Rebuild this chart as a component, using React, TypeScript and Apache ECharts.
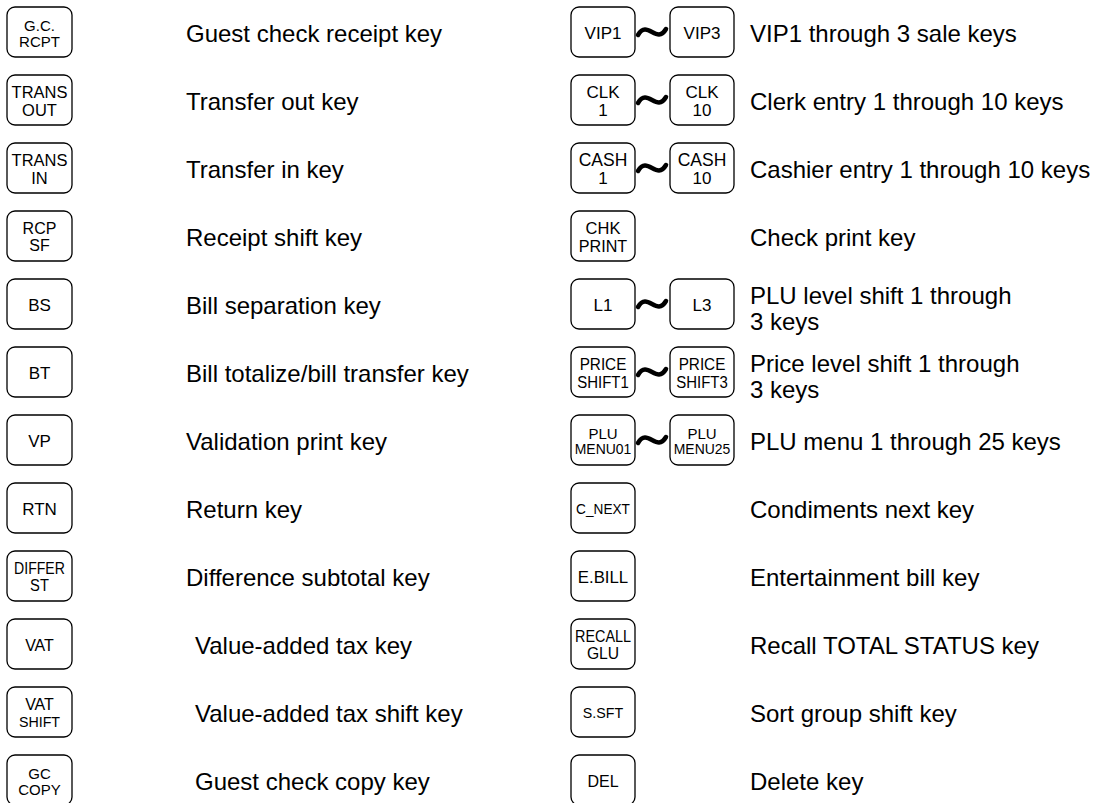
import React, { useEffect, useRef } from "react";
import * as echarts from "echarts";

// ---- data ----
const leftKeyLabels: string[][] = [
  ["G.C.", "RCPT"],
  ["TRANS", "OUT"],
  ["TRANS", "IN"],
  ["RCP", "SF"],
  ["BS"],
  ["BT"],
  ["VP"],
  ["RTN"],
  ["DIFFER", "ST"],
  ["VAT"],
  ["VAT", "SHIFT"],
  ["GC", "COPY"],
];
const leftDescriptions: string[] = [
  "Guest check receipt key",
  "Transfer out key",
  "Transfer in key",
  "Receipt shift key",
  "Bill separation key",
  "Bill totalize/bill transfer key",
  "Validation print key",
  "Return key",
  "Difference subtotal key",
  "Value-added tax key",
  "Value-added tax shift key",
  "Guest check copy key",
];
const rightFirstKeys: string[][] = [
  ["VIP1"],
  ["CLK", "1"],
  ["CASH", "1"],
  ["CHK", "PRINT"],
  ["L1"],
  ["PRICE", "SHIFT1"],
  ["PLU", "MENU01"],
  ["C_NEXT"],
  ["E.BILL"],
  ["RECALL", "GLU"],
  ["S.SFT"],
  ["DEL"],
];
const rightLastKeys: (string[] | null)[] = [
  ["VIP3"],
  ["CLK", "10"],
  ["CASH", "10"],
  null,
  ["L3"],
  ["PRICE", "SHIFT3"],
  ["PLU", "MENU25"],
  null,
  null,
  null,
  null,
  null,
];
const rightDescriptions: string[][] = [
  ["VIP1 through 3 sale keys"],
  ["Clerk entry 1 through 10 keys"],
  ["Cashier entry 1 through 10 keys"],
  ["Check print key"],
  ["PLU level shift 1 through", "3 keys"],
  ["Price level shift 1 through", "3 keys"],
  ["PLU menu 1 through 25 keys"],
  ["Condiments next key"],
  ["Entertainment bill key"],
  ["Recall TOTAL STATUS key"],
  ["Sort group shift key"],
  ["Delete key"],
];

// ---- layout & styles ----
const W = 1106;
const H = 803;
const ROW_TOP = 7;
const ROW_PITCH = 68;
const KEY_H = 50;
const LEFT_KEY_X = 7;
const LEFT_KEY_W = 65;
const LEFT_TEXT_X = 186;
const LEFT_INDENT_ROWS = [9, 10, 11];
const RIGHT_KEY1_X = 571;
const RIGHT_KEY2_X = 670;
const RIGHT_KEY_W = 64;
const RIGHT_TEXT_X = 750;
const DESC_FONT = 24;
const FONT = '"Liberation Sans", Arial, Helvetica, sans-serif';

// label typography: [fontSize, horizontal scale]
const labelStyle: Record<string, [number, number]> = {
  "G.C.": [15, 1], RCPT: [15, 1],
  TRANS: [17, 0.97], OUT: [17, 0.97], IN: [17, 0.97],
  RCP: [16, 1], SF: [16, 1],
  BS: [17, 1], BT: [17, 1], VP: [17, 1], RTN: [17, 1],
  DIFFER: [16, 0.88], ST: [16, 0.92],
  VAT: [16, 1], SHIFT: [15, 0.95], GC: [15, 1], COPY: [15, 1],
  VIP1: [17, 1], VIP3: [17, 1],
  CLK: [17, 1], "1": [17, 1], "10": [17, 1],
  CASH: [17.5, 1],
  CHK: [17, 0.97], PRINT: [17, 0.95],
  L1: [17, 1], L3: [17, 1],
  PRICE: [17, 0.9], SHIFT1: [17, 0.88], SHIFT3: [17, 0.88],
  PLU: [15, 1], MENU01: [15, 0.93], MENU25: [15, 0.93],
  C_NEXT: [15, 0.91], "E.BILL": [16, 1.05],
  RECALL: [16, 0.9], GLU: [16, 0.98],
  "S.SFT": [15, 0.95], DEL: [16, 1],
};

function keyElements(x: number, top: number, w: number, lines: string[]) {
  const els: any[] = [
    {
      type: "rect",
      shape: { x, y: top, width: w, height: KEY_H, r: 8 },
      style: { fill: "#ffffff", stroke: "#000000", lineWidth: 1.3 },
    },
  ];
  const cx = x + w / 2;
  const cy = top + KEY_H / 2;
  const sizes = lines.map((ln) => (labelStyle[ln] || [16, 1])[0]);
  const gap = Math.max(...sizes) + 1;
  lines.forEach((ln, i) => {
    const [fs, sx] = labelStyle[ln] || [16, 1];
    els.push({
      type: "text",
      x: cx,
      y: cy + (i - (lines.length - 1) / 2) * gap + 1,
      scaleX: sx,
      style: {
        text: ln,
        fontSize: fs,
        fontFamily: FONT,
        fill: "#000000",
        textAlign: "center",
        textVerticalAlign: "middle",
        align: "center",
        verticalAlign: "middle",
      },
    });
  });
  return els;
}

function descElement(x: number, y: number, text: string) {
  return {
    type: "text",
    x,
    y,
    style: {
      text,
      fontSize: DESC_FONT,
      fontFamily: FONT,
      fill: "#000000",
      textAlign: "left",
      textVerticalAlign: "middle",
      align: "left",
      verticalAlign: "middle",
    },
  };
}

function buildGraphics() {
  const els: any[] = [];
  leftKeyLabels.forEach((lines, i) => {
    const top = ROW_TOP + i * ROW_PITCH;
    const cy = top + KEY_H / 2;
    els.push(...keyElements(LEFT_KEY_X, top, LEFT_KEY_W, lines));
    const indent = LEFT_INDENT_ROWS.includes(i) ? 9 : 0;
    els.push(descElement(LEFT_TEXT_X + indent, cy + 1, leftDescriptions[i]));
  });
  rightFirstKeys.forEach((lines, i) => {
    const top = ROW_TOP + i * ROW_PITCH;
    const cy = top + KEY_H / 2;
    els.push(...keyElements(RIGHT_KEY1_X, top, RIGHT_KEY_W, lines));
    const last = rightLastKeys[i];
    if (last) {
      const x1 = RIGHT_KEY1_X + RIGHT_KEY_W + 3;
      const x2 = RIGHT_KEY2_X - 4;
      const span = x2 - x1;
      els.push({
        type: "bezierCurve",
        shape: {
          x1,
          y1: cy + 3,
          cpx1: x1 + span * 0.33,
          cpy1: cy - 13,
          cpx2: x1 + span * 0.67,
          cpy2: cy + 13,
          x2,
          y2: cy - 3,
        },
        style: { stroke: "#000000", lineWidth: 4.5, fill: null, lineCap: "round" },
      });
      els.push(...keyElements(RIGHT_KEY2_X, top, RIGHT_KEY_W, last));
    }
    const desc = rightDescriptions[i];
    if (desc.length === 1) {
      els.push(descElement(RIGHT_TEXT_X, cy + 1, desc[0]));
    } else {
      els.push(descElement(RIGHT_TEXT_X, cy - 9, desc[0]));
      els.push(descElement(RIGHT_TEXT_X, cy + 17, desc[1]));
    }
  });
  return els;
}

export default function App() {
  const ref = useRef<HTMLDivElement>(null);
  useEffect(() => {
    if (!ref.current) return;
    const chart = echarts.init(ref.current, undefined, { renderer: "svg" });
    chart.setOption({
      animation: false,
      backgroundColor: "#ffffff",
      graphic: { elements: buildGraphics() },
    });
    return () => chart.dispose();
  }, []);
  return (
    <div
      ref={ref}
      style={{ position: "fixed", left: 0, top: 0, width: W, height: H, background: "#fff" }}
    />
  );
}
